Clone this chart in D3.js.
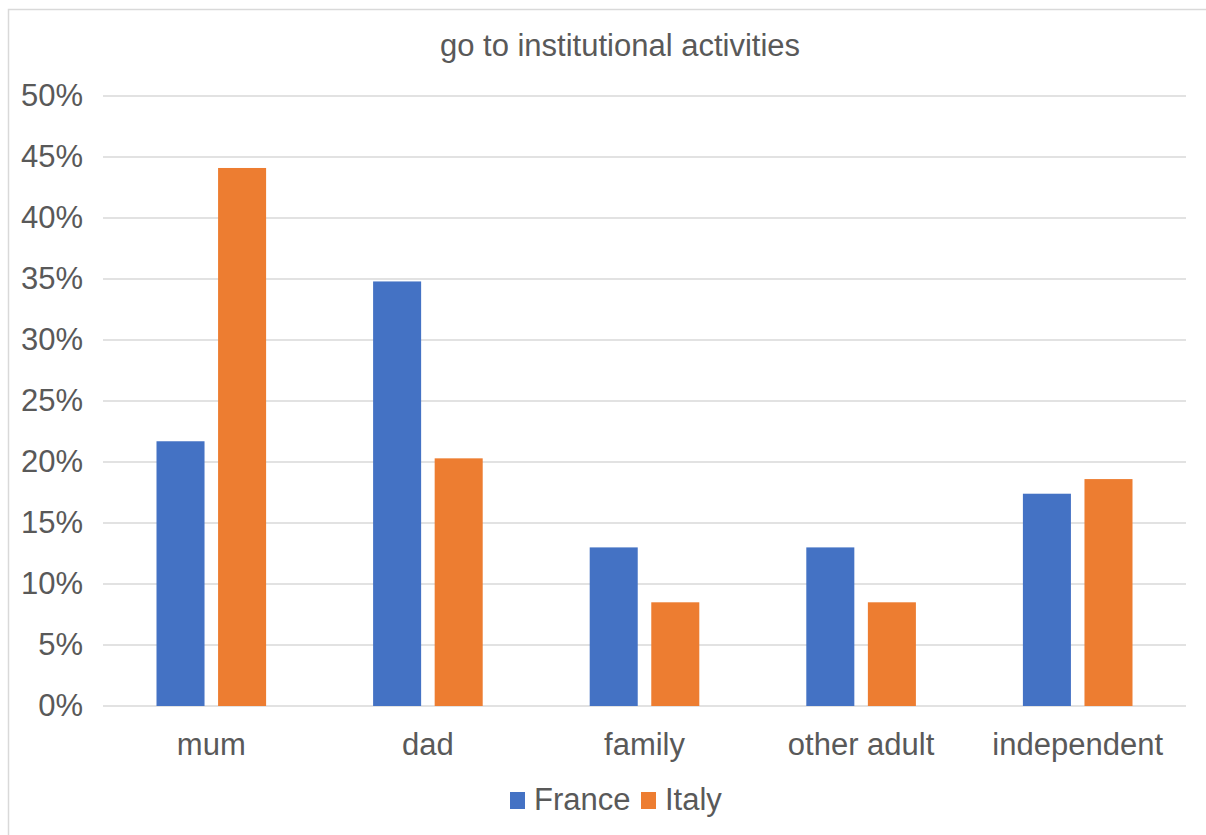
<!DOCTYPE html>
<html>
<head>
<meta charset="utf-8">
<script src="https://cdn.jsdelivr.net/npm/d3@7"></script>
<style>
  body { margin: 0; background: #fff; }
  svg { display: block; font-family: "Liberation Sans", Arial, Helvetica, sans-serif; }
</style>
</head>
<body>
<div id="content"></div>
<script>
var categories = ["mum", "dad", "family", "other adult", "independent"];
var seriesNames = ["France", "Italy"];
var france = [21.7, 34.8, 13.0, 13.0, 17.4];
var italy = [44.1, 20.3, 8.5, 8.5, 18.6];
var yTicks = [0, 5, 10, 15, 20, 25, 30, 35, 40, 45, 50];
var colors = ["#4472C4", "#ED7D31"];
var title = "go to institutional activities";

var W = 1206, H = 835;
var margin = { top: 96, right: 20, bottom: 129, left: 103 };
var width = 1186 - margin.left,
    height = 706 - margin.top;
var fontSize = "31px";

var svg = d3.select("#content").append("svg")
    .attr("width", W)
    .attr("height", H);

// chart frame (runs off the right and bottom of the picture)
svg.append("rect")
    .attr("x", 8.5).attr("y", 9.5)
    .attr("width", 1240).attr("height", 900)
    .attr("fill", "none")
    .attr("stroke", "#d9d9d9")
    .attr("stroke-width", 1.5);

svg.append("text")
    .attr("x", 620)
    .attr("y", 56)
    .attr("text-anchor", "middle")
    .style("font-size", fontSize)
    .attr("fill", "#595959")
    .text(title);

var g = svg.append("g")
    .attr("transform", "translate(" + margin.left + "," + margin.top + ")");

var x0 = d3.scaleBand().domain(categories).range([0, width]);
var x1 = d3.scaleBand().domain(seriesNames)
    .range([x0.bandwidth() * 0.247, x0.bandwidth() * 0.753])
    .paddingInner(0.22);
var y = d3.scaleLinear().domain([0, 50]).range([height, 0]);

// gridlines
g.append("g")
    .selectAll("line")
    .data(yTicks)
    .join("line")
    .attr("x1", 0).attr("x2", width)
    .attr("y1", function (d) { return y(d); })
    .attr("y2", function (d) { return y(d); })
    .attr("stroke", "#d9d9d9")
    .attr("stroke-width", 1.5);

// y axis labels
var yAxis = g.append("g")
    .call(d3.axisLeft(y).tickValues(yTicks).tickSize(0).tickPadding(20)
      .tickFormat(function (d) { return d + "%"; }));
yAxis.select(".domain").remove();
yAxis.selectAll("text")
    .style("font-size", fontSize)
    .attr("fill", "#595959")
    .attr("font-family", null);

// bars
var rows = categories.map(function (c, i) {
  return { cat: c, vals: [france[i], italy[i]] };
});
var groups = g.selectAll(".grp")
    .data(rows)
    .join("g")
    .attr("class", "grp")
    .attr("transform", function (d) { return "translate(" + x0(d.cat) + ",0)"; });
groups.selectAll("rect")
    .data(function (d) { return d.vals.map(function (v, j) { return { s: seriesNames[j], v: v, j: j }; }); })
    .join("rect")
    .attr("x", function (d) { return x1(d.s); })
    .attr("width", x1.bandwidth())
    .attr("y", function (d) { return y(d.v); })
    .attr("height", function (d) { return height - y(d.v); })
    .attr("fill", function (d) { return colors[d.j]; });

// x axis labels
var xAxis = g.append("g")
    .attr("transform", "translate(0," + height + ")")
    .call(d3.axisBottom(x0).tickSize(0).tickPadding(27));
xAxis.select(".domain").remove();
xAxis.selectAll("text")
    .style("font-size", fontSize)
    .attr("fill", "#595959")
    .attr("font-family", null);

// legend
var legend = svg.append("g").attr("transform", "translate(510,792)");
var lx = [0, 131];
seriesNames.forEach(function (s, i) {
  legend.append("rect")
    .attr("x", lx[i]).attr("y", 0)
    .attr("width", 15).attr("height", 17)
    .attr("fill", colors[i]);
  legend.append("text")
    .attr("x", lx[i] + 24).attr("y", 18)
    .style("font-size", fontSize)
    .attr("fill", "#595959")
    .text(s);
});
</script>
</body>
</html>
